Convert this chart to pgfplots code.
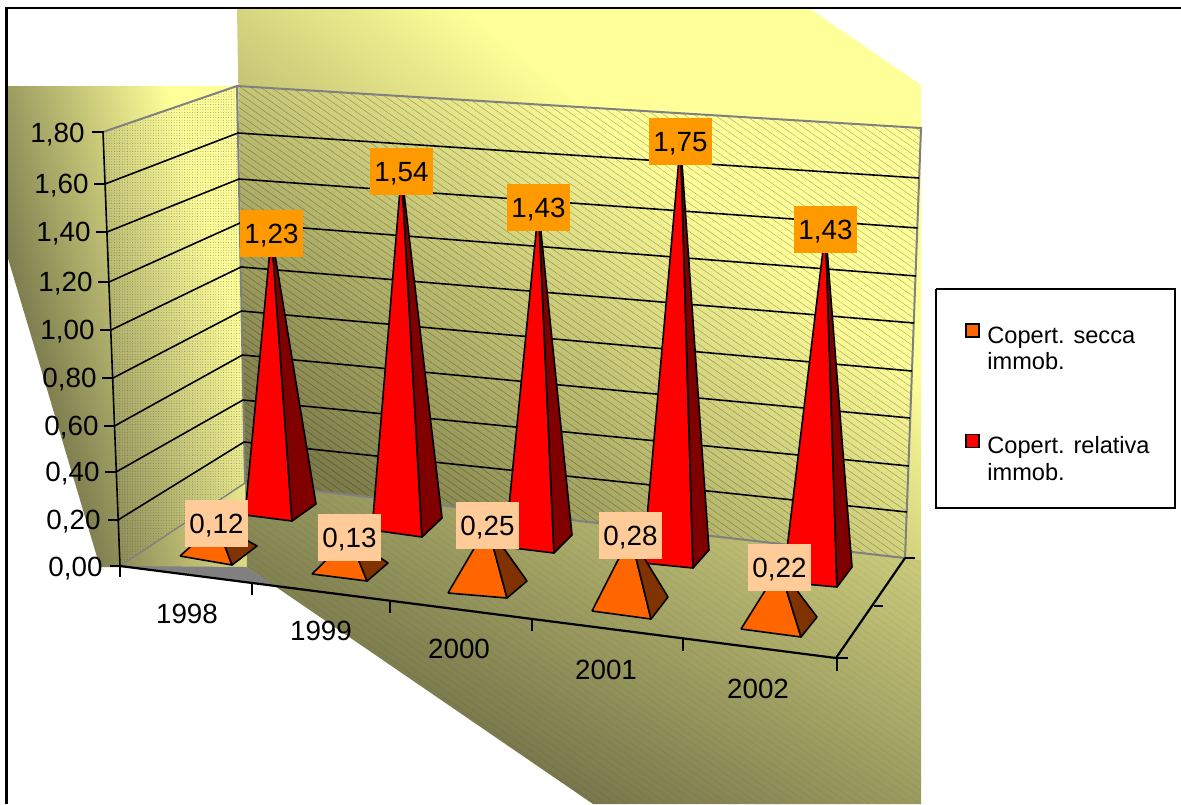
\documentclass[border=0pt]{standalone}
\usepackage{fontspec}
\setmainfont{Liberation Sans}
\usepackage{pgfplots}
\pgfplotsset{compat=1.18}
\usetikzlibrary{patterns.meta}

% colours of the chart
\definecolor{orangeF}{HTML}{FF6600}
\definecolor{orangeS}{HTML}{803300}
\definecolor{redF}{HTML}{FF0000}
\definecolor{redS}{HTML}{800000}
\definecolor{tagHigh}{HTML}{FF9900}
\definecolor{tagLow}{HTML}{FFCC99}
\definecolor{edge}{HTML}{808080}

% gradients of the three planes (olive towards pale yellow)
\pgfdeclareverticalshading{leftplane}{100bp}{rgb(0bp)=(0.455,0.455,0.29);
  rgb(31bp)=(0.455,0.455,0.29);rgb(68bp)=(1,1,0.6);rgb(100bp)=(1,1,0.6)}
\pgfdeclareverticalshading{backplane}{100bp}{rgb(0bp)=(0.486,0.486,0.29);
  rgb(25bp)=(0.486,0.486,0.29);rgb(62bp)=(1,1,0.6);rgb(100bp)=(1,1,0.6)}
\pgfdeclareverticalshading{floorplane}{100bp}{rgb(0bp)=(0.455,0.455,0.29);
  rgb(33bp)=(0.455,0.455,0.29);rgb(75bp)=(0.784,0.784,0.478);rgb(100bp)=(0.784,0.784,0.478)}

% one gridline: tick, left wall, back wall
\newcommand{\gridl}[7]{\addplot[black,line width=.8pt] coordinates {(#1,#2)(#3,#2)(#4,#5)(#6,#7)};}
% axis number at the tick
\newcommand{\ynum}[3]{\node[anchor=east,inner sep=0pt,text height=9.9pt,text depth=0pt] at (axis cs:#1,#2) {#3};}
\newcommand{\xnum}[3]{\node[anchor=center,inner sep=0pt,text height=9.9pt,text depth=0pt] at (axis cs:#1,#2) {#3};}
% tick segment
\newcommand{\tick}[4]{\addplot[black,line width=.8pt] coordinates {(#1,#2)(#3,#4)};}
% legend text
\newcommand{\ltext}[3]{\node[anchor=base west,inner sep=0pt,font=\fontsize{11.8}{13}\selectfont] at (axis cs:#1,#2) {#3};}

\pgfplotsset{
  face/.style={draw=black,line width=.8pt,line join=round,fill=#1},
  tags/.style={draw=none,point meta=explicit symbolic,nodes near coords,
    nodes near coords align={center},
    every node near coord/.style={fill=#1,text=black,inner sep=0pt,anchor=center,
      minimum width=31.5pt,minimum height=23.5pt,text height=9.9pt,text depth=0pt}},
}

\begin{document}
\begin{tikzpicture}
\begin{axis}[
  scale only axis, width=590.5pt, height=402pt,
  xmin=0, xmax=1181, ymin=0, ymax=804, y dir=reverse,
  axis lines=none,
  font=\fontsize{13.9}{16}\selectfont,
]
% page
\addplot[draw=none,fill=white] coordinates {(0,0)(1181,0)(1181,804)(0,804)};

% background planes
\addplot[draw=none,shading=leftplane,shading angle=-74]
  coordinates {(7,86)(237,86)(245,483)(247,567)(100,567)(7,255)};
\addplot[draw=none,shading=backplane,shading angle=-38.5]
  coordinates {(237,9)(810,9)(921,85)(921,560)(905,558)(245,483)};
\addplot[draw=none,shading=floorplane,shading angle=-28.5]
  coordinates {(245,483)(905,558)(921,560)(921,804)(593,804)(247,567)};
\addplot[draw=none,fill=edge] coordinates {(120,566)(247,567)(275,586)};

% textures of the planes
\addplot[draw=none,pattern={Dots[distance=1.3pt,radius=.25pt]},pattern color=black!70,opacity=.55]
  coordinates {(103,132)(237,86)(245,483)(120,566)};
\addplot[draw=none,pattern={Lines[angle=-35,distance=2.9pt,line width=.22pt]},pattern color=black,opacity=.32]
  coordinates {(237,86)(921,128)(905,558)(245,483)};
\addplot[draw=none,pattern={Lines[angle=-35,distance=2.9pt,line width=.25pt]},pattern color=black,opacity=.06]
  coordinates {(245,483)(905,558)(921,560)(921,804)(593,804)(247,567)};

% wall edges
\addplot[edge,line width=1pt] coordinates {(103,132)(237,86)(921,128)(905,558)(245,483)(237,86)};
\addplot[edge,line width=.7pt] coordinates {(120,566)(245,483)};

% gridlines
\gridl{94}{184}{105}{238}{133}{919}{178}
\gridl{96}{232}{107}{239}{179}{917.5}{228}
\gridl{98}{282}{109}{240}{223}{916}{276}
\gridl{100}{330}{111}{241}{267}{914}{323}
\gridl{102}{378}{113}{241.5}{311}{912}{371}
\gridl{104}{426}{114.5}{242.5}{355}{910}{418}
\gridl{105}{472}{116}{243}{400}{909}{466}
\gridl{108}{520}{118}{244}{442}{907}{512}

% value axis and floor frame
\addplot[black,line width=.8pt] coordinates {(92,132)(103,132)(120,566)};
\tick{110}{566}{120}{566}
\addplot[black,line width=1.1pt] coordinates {(120,566)(836,658)(905,558)};
\tick{120}{566}{120}{577}
\tick{252}{584}{252}{595}
\tick{390}{602}{390}{613}
\tick{532}{620}{532}{631}
\tick{683}{639}{683}{651}
\tick{837}{658}{837}{671}
\tick{836}{658}{848}{658}
\tick{874}{606}{883}{606}
\tick{905}{558}{915}{558}

% second series: front face (left), side face (right)
\addplot[face=redF] table[row sep=\\,y expr=\thisrow{y}-\thisrow{v}*224.4] {x y v\\ 245 515 0\\ 292 521 0\\ 271.5 509.5 1.23\\ 245 515 0\\};
\addplot[face=redS] table[row sep=\\,y expr=\thisrow{y}-\thisrow{v}*224.4] {x y v\\ 292 521 0\\ 316 504 0\\ 271.5 509.5 1.23\\ 292 521 0\\};
\addplot[face=redF] table[row sep=\\,y expr=\thisrow{y}-\thisrow{v}*228.9] {x y v\\ 372 530 0\\ 422 537 0\\ 401.5 524 1.54\\ 372 530 0\\};
\addplot[face=redS] table[row sep=\\,y expr=\thisrow{y}-\thisrow{v}*228.9] {x y v\\ 422 537 0\\ 442 518 0\\ 401.5 524 1.54\\ 422 537 0\\};
\addplot[face=redF] table[row sep=\\,y expr=\thisrow{y}-\thisrow{v}*233.2] {x y v\\ 505 547 0\\ 554 553 0\\ 538.5 541 1.43\\ 505 547 0\\};
\addplot[face=redS] table[row sep=\\,y expr=\thisrow{y}-\thisrow{v}*233.2] {x y v\\ 554 553 0\\ 572 535 0\\ 538.5 541 1.43\\ 554 553 0\\};
\addplot[face=redF] table[row sep=\\,y expr=\thisrow{y}-\thisrow{v}*237.1] {x y v\\ 643 563 0\\ 693 568 0\\ 680.5 556.5 1.75\\ 643 563 0\\};
\addplot[face=redS] table[row sep=\\,y expr=\thisrow{y}-\thisrow{v}*237.1] {x y v\\ 693 568 0\\ 709 550 0\\ 680.5 556.5 1.75\\ 693 568 0\\};
\addplot[face=redF] table[row sep=\\,y expr=\thisrow{y}-\thisrow{v}*241.3] {x y v\\ 783 582 0\\ 837 587 0\\ 825.5 574.5 1.43\\ 783 582 0\\};
\addplot[face=redS] table[row sep=\\,y expr=\thisrow{y}-\thisrow{v}*241.3] {x y v\\ 837 587 0\\ 852 567 0\\ 825.5 574.5 1.43\\ 837 587 0\\};

\addplot[tags=tagHigh] table[meta=t] {
x y t
271.5 233.5 1,23
401.5 171.5 1,54
538.5 207.5 1,43
680.5 141.5 1,75
825.5 229.5 1,43
};

% first series
\addplot[face=orangeF] table[row sep=\\,y expr=\thisrow{y}-\thisrow{v}*229] {x y v\\ 180 556 0\\ 232 565 0\\ 216.5 551 0.12\\ 180 556 0\\};
\addplot[face=orangeS] table[row sep=\\,y expr=\thisrow{y}-\thisrow{v}*229] {x y v\\ 232 565 0\\ 257 546 0\\ 216.5 551 0.12\\ 232 565 0\\};
\addplot[face=orangeF] table[row sep=\\,y expr=\thisrow{y}-\thisrow{v}*238.5] {x y v\\ 312 574 0\\ 367 581 0\\ 349.5 568.5 0.13\\ 312 574 0\\};
\addplot[face=orangeS] table[row sep=\\,y expr=\thisrow{y}-\thisrow{v}*238.5] {x y v\\ 367 581 0\\ 388 563 0\\ 349.5 568.5 0.13\\ 367 581 0\\};
\addplot[face=orangeF] table[row sep=\\,y expr=\thisrow{y}-\thisrow{v}*246] {x y v\\ 448 593 0\\ 507 598 0\\ 487.5 587 0.25\\ 448 593 0\\};
\addplot[face=orangeS] table[row sep=\\,y expr=\thisrow{y}-\thisrow{v}*246] {x y v\\ 507 598 0\\ 527 581 0\\ 487.5 587 0.25\\ 507 598 0\\};
\addplot[face=orangeF] table[row sep=\\,y expr=\thisrow{y}-\thisrow{v}*244.6] {x y v\\ 592 611 0\\ 651 619 0\\ 630.5 604 0.28\\ 592 611 0\\};
\addplot[face=orangeS] table[row sep=\\,y expr=\thisrow{y}-\thisrow{v}*244.6] {x y v\\ 651 619 0\\ 668 597 0\\ 630.5 604 0.28\\ 651 619 0\\};
\addplot[face=orangeF] table[row sep=\\,y expr=\thisrow{y}-\thisrow{v}*252.3] {x y v\\ 741 629 0\\ 801 637 0\\ 779.5 623 0.22\\ 741 629 0\\};
\addplot[face=orangeS] table[row sep=\\,y expr=\thisrow{y}-\thisrow{v}*252.3] {x y v\\ 801 637 0\\ 817 617 0\\ 779.5 623 0.22\\ 801 637 0\\};

\addplot[tags=tagLow] table[meta=t] {
x y t
216.5 523.5 0,12
349.5 537.5 0,13
487.5 525.5 0,25
630.5 535.5 0,28
779.5 567.5 0,22
};

% value axis numbers
\ynum{85}{132.5}{1,80}
\ynum{89}{184}{1,60}
\ynum{91}{232}{1,40}
\ynum{93}{282}{1,20}
\ynum{95}{330}{1,00}
\ynum{97}{378}{0,80}
\ynum{99}{426}{0,60}
\ynum{100}{472}{0,40}
\ynum{101}{520}{0,20}
\ynum{103}{567}{0,00}

% year labels
\xnum{187}{614}{1998}
\xnum{321}{631}{1999}
\xnum{459}{649}{2000}
\xnum{606}{670}{2001}
\xnum{758}{689}{2002}

% outer frame
\addplot[black,line width=1.1pt] coordinates {(6.5,804)(6.5,8)(1181,8)};

% legend
\addplot[fill=white,draw=black,line width=.8pt] coordinates {(936,289)(1175,289)(1175,508)(936,508)(936,289)};
\addplot[only marks,mark=square*,mark size=3.2pt,mark options={fill=orangeF,draw=black,line width=.7pt}] coordinates {(972.5,330.5)};
\addplot[only marks,mark=square*,mark size=3.2pt,mark options={fill=redF,draw=black,line width=.7pt}] coordinates {(972.5,441)};
\ltext{987}{343}{Copert. secca}
\ltext{987}{369}{immob.}
\ltext{987}{453}{Copert. relativa}
\ltext{987}{480}{immob.}
\end{axis}
\end{tikzpicture}
\end{document}
